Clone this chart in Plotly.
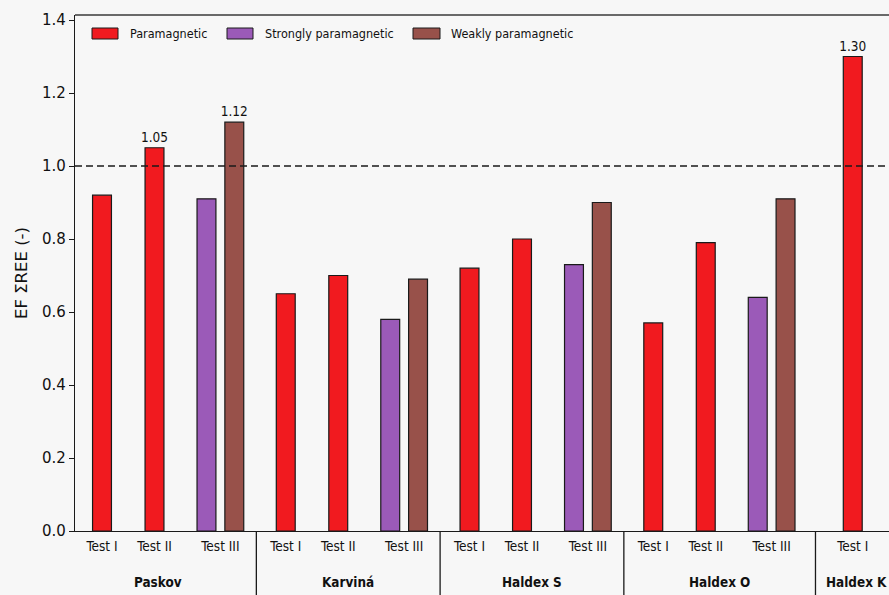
import plotly.graph_objects as go

# --- data -------------------------------------------------------------
groups = ["Paskov", "Karviná", "Haldex S", "Haldex O", "Haldex K"]
tests = ["Test I", "Test II", "Test III"]

# EF of total REE per sample and test
test_i = [0.92, 0.65, 0.72, 0.57, 1.30]          # paramagnetic
test_ii = [1.05, 0.70, 0.80, 0.79, None]         # paramagnetic
test_iii_strong = [0.91, 0.58, 0.73, 0.64, None]  # strongly paramagnetic
test_iii_weak = [1.12, 0.69, 0.90, 0.91, None]    # weakly paramagnetic

series_names = ["Paramagnetic", "Strongly paramagnetic", "Weakly paramagnetic"]
series_colors = ["#f11a1f", "#9b5ab8", "#98514a"]

# --- layout constants -------------------------------------------------
group_start = [0.0, 3.5, 7.0, 10.5, 14.3]
off_ii = 1.0
off_strong = 1.99
off_weak = 2.52
bar_w = 0.36

W, H = 889, 595
ML, MR, MT, MB = 75, 0, 15, 64
PW, PH = W - ML - MR, H - MT - MB

NARROW = "DejaVu Sans Condensed, DejaVu Sans, sans-serif"
DEJAVU = "DejaVu Sans, sans-serif"
INK = "#1a1a1a"
BG = "#f7f7f7"


def px_x(p):
    return (p - ML) / PW


def px_y(p):
    return (H - MB - p) / PH


def label(v):
    return f"{v:.2f}" if v is not None and v > 1.0 else ""


# --- bar positions ----------------------------------------------------
red_x, red_y = [], []
for g, s in enumerate(group_start):
    red_x.append(s)
    red_y.append(test_i[g])
    if test_ii[g] is not None:
        red_x.append(s + off_ii)
        red_y.append(test_ii[g])

strong_x = [s + off_strong for s, v in zip(group_start, test_iii_strong) if v is not None]
strong_y = [v for v in test_iii_strong if v is not None]
weak_x = [s + off_weak for s, v in zip(group_start, test_iii_weak) if v is not None]
weak_y = [v for v in test_iii_weak if v is not None]

fig = go.Figure()
for name, color, xs, ys in zip(series_names, series_colors,
                               [red_x, strong_x, weak_x], [red_y, strong_y, weak_y]):
    fig.add_trace(go.Bar(
        x=xs, y=ys, name=name, width=bar_w,
        marker=dict(color=color, line=dict(color=INK, width=1.2)),
        text=[label(v) for v in ys], textposition="outside", constraintext="none",
        textfont=dict(family=NARROW, size=13.5, color="#111"),
        cliponaxis=False, showlegend=False,
    ))

# --- x tick labels (tests) -------------------------------------------
tickvals, ticktext = [], []
for g, s in enumerate(group_start):
    tickvals.append(s)
    ticktext.append(tests[0])
    if test_ii[g] is not None:
        tickvals.append(s + off_ii)
        ticktext.append(tests[1])
    if test_iii_strong[g] is not None:
        tickvals.append(s + (off_strong + off_weak) / 2)
        ticktext.append(tests[2])

shapes = []
annotations = []

# separators between sample groups, below the axis
seps = [(group_start[g] + off_weak + group_start[g + 1]) / 2 - 0.07
        for g in range(len(group_start) - 1)]
for sep in seps:
    shapes.append(dict(type="line", xref="x", yref="paper", x0=sep, x1=sep,
                       y0=0, y1=-MB / PH, line=dict(color=INK, width=1.3)))

# group names, centred in their section
for g, s in enumerate(group_start):
    if g == 0:
        cx = s + 1.07
    elif g == len(group_start) - 1:
        cx = s + 0.08
    else:
        cx = (seps[g - 1] + seps[g]) / 2
    annotations.append(dict(x=cx, xref="x", y=px_y(582), yref="paper",
                            text=f"<b>{groups[g]}</b>", showarrow=False,
                            xanchor="center", yanchor="middle",
                            font=dict(family=NARROW, size=13.4, color="#111")))

# reference line EF = 1
shapes.append(dict(type="line", xref="paper", yref="y", x0=0, x1=1, y0=1.0, y1=1.0,
                   line=dict(color=INK, width=1.5, dash="7px,4px")))
# top frame line
shapes.append(dict(type="line", xref="paper", yref="paper", x0=0, x1=1, y0=1, y1=1,
                   line=dict(color="#3a3a3a", width=1.3)))

# legend
legend_items = [(92, 118, 128), (227, 253, 263), (413, 440, 449)]
for (x0, x1, tx), name, color in zip(legend_items, series_names, series_colors):
    shapes.append(dict(type="rect", xref="paper", yref="paper",
                       x0=px_x(x0), x1=px_x(x1), y0=px_y(39), y1=px_y(28),
                       fillcolor=color, line=dict(color=INK, width=1)))
    annotations.append(dict(x=px_x(tx), y=px_y(33.5), xref="paper", yref="paper",
                            text=name, showarrow=False, xanchor="left", yanchor="middle",
                            font=dict(family=NARROW, size=12.5, color="#111")))

x_lo = group_start[0] - (102 - ML) / 52.5
x_hi = x_lo + PW / 52.5

fig.update_layout(
    width=W, height=H,
    margin=dict(l=ML, r=MR, t=MT, b=MB, pad=0),
    paper_bgcolor=BG, plot_bgcolor=BG,
    barmode="overlay",
    shapes=shapes, annotations=annotations,
    xaxis=dict(range=[x_lo, x_hi], tickvals=tickvals, ticktext=ticktext,
               showgrid=False, zeroline=False, showline=True, linecolor=INK, linewidth=1.3,
               ticks="outside", ticklen=3, tickcolor="rgba(0,0,0,0)",
               tickfont=dict(family=NARROW, size=13.5, color="#111")),
    yaxis=dict(range=[0, 1.4137], tickvals=[0, 0.2, 0.4, 0.6, 0.8, 1.0, 1.2, 1.4],
               ticktext=["0.0", "0.2", "0.4", "0.6", "0.8", "1.0", "1.2", "1.4"],
               showgrid=False, zeroline=False, showline=True, linecolor=INK, linewidth=1.3,
               ticks="outside", ticklen=5, tickwidth=1.2, tickcolor=INK,
               tickfont=dict(family=DEJAVU, size=15, color="#111"),
               title=dict(text="EF ΣREE (-)", standoff=10,
                          font=dict(family=DEJAVU, size=16.5, color="#111"))),
)

fig.write_html("out.html")
